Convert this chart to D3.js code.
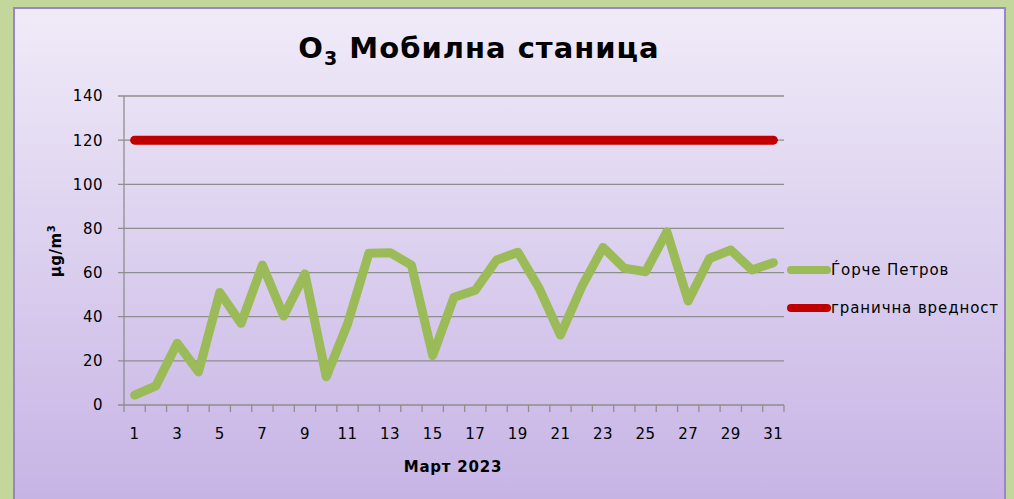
<!DOCTYPE html>
<html><head><meta charset="utf-8">
<script src="https://cdn.jsdelivr.net/npm/d3@7"></script>
<style>
html,body{margin:0;padding:0;background:#C3D69B;}
svg{display:block;}
text{font-family:"DejaVu Sans",sans-serif;fill:#000;}
</style></head>
<body>
<svg id="c" width="1014" height="499"></svg>
<script>
const days = d3.range(1, 32).map(String);
const gorcePetrov = [4.5, 8.7, 28, 15, 51, 37, 63.4, 40.3, 59.4, 12.8, 36.7, 68.7, 69, 63.4, 22.4, 48.8, 52, 65.7, 69.2, 52.9, 31.7, 53.6, 71.4, 62, 60.4, 78.5, 47.1, 66.4, 70.2, 61.2, 64.5];
const limitValue = days.map(() => 120);
const yTicks = [0, 20, 40, 60, 80, 100, 120, 140];
const xTickLabels = days.filter((d, i) => i % 2 === 0);
const seriesNames = ["Ѓорче Петров", "гранична вредност"];
const seriesColors = ["#9BBB59", "#C00000"];

const svg = d3.select("#c");
const defs = svg.append("defs");
const g = defs.append("linearGradient").attr("id","bg").attr("x1",0).attr("y1",0).attr("x2",0).attr("y2",1);
g.append("stop").attr("offset","0%").attr("stop-color","#F0EBF8");
g.append("stop").attr("offset","100%").attr("stop-color","#C6B3E5");

svg.append("rect").attr("x",14).attr("y",8).attr("width",991).attr("height",500)
  .attr("fill","url(#bg)").attr("stroke","#9A85C6").attr("stroke-width",2);

const L = 124, R = 784, T = 96, B = 405;
const x = d3.scaleBand().domain(days).range([L, R]);
const y = d3.scaleLinear().domain([0, 140]).range([B, T]);

// gridlines
svg.append("g").selectAll("line").data(yTicks).join("line")
  .attr("x1", L - 6).attr("x2", R).attr("y1", d => y(d)).attr("y2", d => y(d))
  .attr("stroke", "#8E8E8E").attr("stroke-width", 1.3);

// y axis line
svg.append("line").attr("x1",L).attr("x2",L).attr("y1",T).attr("y2",B)
  .attr("stroke","#8E8E8E").attr("stroke-width",1.3);

// x ticks
const xt = d3.range(0, 32).map(i => L + i * x.step());
svg.append("g").selectAll("line").data(xt).join("line")
  .attr("x1", d => d).attr("x2", d => d).attr("y1", B).attr("y2", B + 7)
  .attr("stroke", "#8E8E8E").attr("stroke-width", 1.3);

// y labels
svg.append("g").selectAll("text").data(yTicks).join("text")
  .attr("x", 103).attr("y", d => y(d)).attr("dy","0.36em")
  .attr("text-anchor","end").style("font-size","15px").style("letter-spacing","0.5px").text(d => d);

// x labels
svg.append("g").selectAll("text").data(xTickLabels).join("text")
  .attr("x", d => x(d) + x.bandwidth()/2).attr("y", 439)
  .attr("text-anchor","middle").style("font-size","15px").style("letter-spacing","0.5px").text(d => d);

// limit line
const line = d3.line().x((d,i) => x(days[i]) + x.bandwidth()/2).y(d => y(d));
svg.append("path").datum(limitValue).attr("d", line).attr("fill","none")
  .attr("stroke", seriesColors[1]).attr("stroke-width", 9).attr("stroke-linecap","round");
svg.append("path").datum(gorcePetrov).attr("d", line).attr("fill","none")
  .attr("stroke", seriesColors[0]).attr("stroke-width", 9).attr("stroke-linecap","round").attr("stroke-linejoin","round");

// title
const title = svg.append("text").attr("x", 479).attr("y", 58).attr("text-anchor","middle")
  .style("font-size","29px").style("font-weight","bold").style("letter-spacing","1px");
title.append("tspan").text("O");
title.append("tspan").attr("dy", 7).style("font-size","19px").text("3");
title.append("tspan").attr("dy", -7).text(" Мобилна станица");

// axis titles
svg.append("text").attr("x", 453).attr("y", 472).attr("text-anchor","middle")
  .style("font-size","15px").style("font-weight","bold").style("letter-spacing","0.8px").text("Март 2023");
const yt = svg.append("text").attr("transform","translate(61,251) rotate(-90)").attr("text-anchor","middle")
  .style("font-size","15px").style("font-weight","bold").style("letter-spacing","0.5px");
yt.append("tspan").text("μg/m");
yt.append("tspan").attr("dy",-6).style("font-size","10px").text("3");

// legend
const leg = svg.append("g").selectAll("g").data(seriesNames).join("g")
  .attr("transform", (d,i) => `translate(0,${270 + i*38})`);
leg.append("line").attr("x1", 791).attr("x2", 827).attr("y1",0).attr("y2",0)
  .attr("stroke", (d,i) => seriesColors[i]).attr("stroke-width", 8).attr("stroke-linecap","round");
leg.append("text").attr("x", 831).attr("y", 0).attr("dy","0.36em")
  .style("font-size","15px").style("letter-spacing","0.9px").text(d => d);
</script>
</body></html>
